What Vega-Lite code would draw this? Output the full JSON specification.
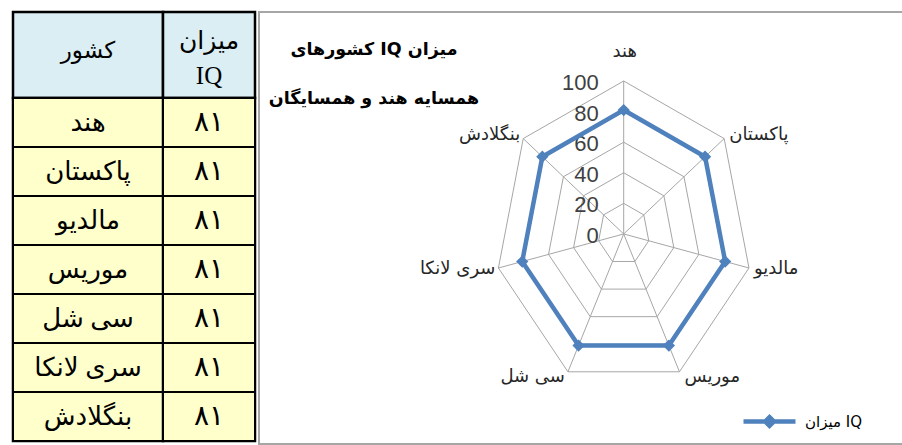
{
  "$schema": "https://vega.github.io/schema/vega-lite/v6.json",
  "padding": {"left": 10, "top": 10, "right": 0, "bottom": 0},
  "background": "white",
  "spacing": 0,
  "config": {
    "locale": {"number": {"decimal": ".", "thousands": ",", "grouping": [3], "currency": ["", ""], "numerals": ["۰","۱","۲","۳","۴","۵","۶","۷","۸","۹"]}},
    "concat": {"spacing": 0},
    "axis": {"disable": true}
  },
  "datasets": {
    "iq": [
      {"country": "هند", "iq": 81},
      {"country": "پاکستان", "iq": 81},
      {"country": "مالدیو", "iq": 81},
      {"country": "موریس", "iq": 81},
      {"country": "سی شل", "iq": 81},
      {"country": "سری لانکا", "iq": 81},
      {"country": "بنگلادش", "iq": 81}
    ],
    "ticks": [{"level": 0}, {"level": 20}, {"level": 40}, {"level": 60}, {"level": 80}, {"level": 100}],
    "header": [{"col": "country", "label": "کشور"}, {"col": "iq", "label": "میزان IQ"}]
  },
  "hconcat": [
    {
      "columns": 2,
      "spacing": 0,
      "bounds": "flush",
      "concat": [
        {
          "width": 150, "height": 86,
          "view": {"fill": "#DAEEF3", "stroke": "black", "strokeWidth": 2.5},
          "data": {"name": "header"},
          "transform": [{"filter": "datum.col === 'country'"}],
          "mark": {"type": "text", "fontSize": 23, "font": "Liberation Serif, DejaVu Sans", "color": "black", "baseline": "middle", "dy": -4},
          "encoding": {"text": {"field": "label"}}
        },
        {
          "width": 92, "height": 86,
          "view": {"fill": "#DAEEF3", "stroke": "black", "strokeWidth": 2.5},
          "data": {"name": "header"},
          "transform": [{"filter": "datum.col === 'iq'"}],
          "mark": {"type": "text", "fontSize": 25, "font": "Liberation Serif, DejaVu Sans", "color": "black", "baseline": "middle", "lineBreak": " ", "lineHeight": 35, "dy": -14},
          "encoding": {"text": {"field": "label"}}
        },
        {
          "width": 150, "height": 343,
          "view": {"stroke": "black", "strokeWidth": 2.5},
          "data": {"name": "iq"},
          "layer": [
            {
              "mark": {"type": "rect", "fill": "#FFFFCC", "stroke": "black", "strokeWidth": 2},
              "encoding": {"y": {"field": "country", "type": "nominal", "sort": null, "axis": null, "scale": {"paddingInner": 0, "paddingOuter": 0}}}
            },
            {
              "mark": {"type": "text", "fontSize": 26, "font": "Liberation Serif, DejaVu Sans", "color": "black", "baseline": "middle"},
              "encoding": {
                "y": {"field": "country", "type": "nominal", "sort": null, "axis": null},
                "text": {"field": "country"}
              }
            }
          ]
        },
        {
          "width": 92, "height": 343,
          "view": {"stroke": "black", "strokeWidth": 2.5},
          "data": {"name": "iq"},
          "layer": [
            {
              "mark": {"type": "rect", "fill": "#FFFFCC", "stroke": "black", "strokeWidth": 2},
              "encoding": {"y": {"field": "country", "type": "nominal", "sort": null, "axis": null, "scale": {"paddingInner": 0, "paddingOuter": 0}}}
            },
            {
              "mark": {"type": "text", "fontSize": 28, "font": "DejaVu Sans", "color": "black", "baseline": "middle"},
              "encoding": {
                "y": {"field": "country", "type": "nominal", "sort": null, "axis": null},
                "text": {"field": "iq", "type": "quantitative"}
              }
            }
          ]
        }
      ]
    },
    {
      "width": 646, "height": 432,
      "view": {"stroke": "#A6A6A6", "strokeWidth": 2},
      "title": {
        "text": ["کشورهای IQ میزان", "همسایه هند و همسایگان"],
        "orient": "top", "anchor": "start", "frame": "group", "align": "center",
        "baseline": "top", "dx": 115, "offset": -95, "lineHeight": 49,
        "fontSize": 17.5, "fontWeight": "bold", "font": "DejaVu Sans", "color": "black"
      },
      "data": {"name": "iq"},
      "transform": [
        {"window": [{"op": "row_number", "as": "idx"}]},
        {"calculate": "(datum.idx - 1) * 2 * PI / 7", "as": "theta"}
      ],
      "layer": [
        {
          "transform": [
            {"fold": ["20", "40", "60", "80", "100"], "as": ["lvl", "v"]},
            {"calculate": "toNumber(datum.lvl)", "as": "level"},
            {"calculate": "datum.level * sin(datum.theta)", "as": "gx"},
            {"calculate": "datum.level * cos(datum.theta)", "as": "gy"}
          ],
          "mark": {"type": "line", "interpolate": "linear-closed", "stroke": "#A6A6A6", "strokeWidth": 1},
          "encoding": {
            "x": {"field": "gx", "type": "quantitative", "axis": null, "scale": {"domain": [-283.8, 218.9], "nice": false, "zero": false}},
            "y": {"field": "gy", "type": "quantitative", "axis": null, "scale": {"domain": [-137.3, 145.1], "nice": false, "zero": false}},
            "detail": {"field": "lvl"},
            "order": {"field": "idx", "type": "quantitative"}
          }
        },
        {
          "transform": [
            {"calculate": "100 * sin(datum.theta)", "as": "sx"},
            {"calculate": "100 * cos(datum.theta)", "as": "sy"}
          ],
          "mark": {"type": "rule", "stroke": "#A6A6A6", "strokeWidth": 1},
          "encoding": {
            "x": {"field": "sx", "type": "quantitative", "axis": null},
            "y": {"field": "sy", "type": "quantitative", "axis": null},
            "x2": {"datum": 0},
            "y2": {"datum": 0}
          }
        },
        {
          "data": {"name": "ticks"},
          "mark": {"type": "text", "align": "right", "baseline": "middle", "dx": -25, "dy": 2, "fontSize": 22, "font": "Liberation Sans", "color": "#404040"},
          "encoding": {
            "x": {"datum": 0, "type": "quantitative"},
            "y": {"field": "level", "type": "quantitative", "axis": null},
            "text": {"field": "level", "type": "nominal"}
          }
        },
        {
          "transform": [
            {"calculate": "datum.iq * sin(datum.theta)", "as": "px"},
            {"calculate": "datum.iq * cos(datum.theta)", "as": "py"}
          ],
          "mark": {"type": "line", "interpolate": "linear-closed", "strokeWidth": 4.5},
          "encoding": {
            "x": {"field": "px", "type": "quantitative", "axis": null},
            "y": {"field": "py", "type": "quantitative", "axis": null},
            "order": {"field": "idx", "type": "quantitative"},
            "color": {
              "datum": "میزان IQ",
              "scale": {"range": ["#4F81BD"]},
              "legend": {
                "title": null, "orient": "none", "legendX": 728, "legendY": 381,
                "symbolType": "M-1,0L1,0M0,-0.17L0.17,0L0,0.17L-0.17,0Z",
                "symbolSize": 2704, "symbolStrokeWidth": 4.5,
                "symbolFillColor": "#4F81BD", "symbolStrokeColor": "#4F81BD",
                "labelFontSize": 15, "labelFont": "DejaVu Sans", "labelColor": "black", "labelOffset": 7
              }
            }
          }
        },
        {
          "transform": [
            {"calculate": "datum.iq * sin(datum.theta)", "as": "px"},
            {"calculate": "datum.iq * cos(datum.theta)", "as": "py"}
          ],
          "mark": {"type": "point", "shape": "diamond", "filled": true, "size": 150, "color": "#4F81BD", "opacity": 1},
          "encoding": {
            "x": {"field": "px", "type": "quantitative", "axis": null},
            "y": {"field": "py", "type": "quantitative", "axis": null}
          }
        },
        {
          "transform": [
            {"filter": "datum.idx === 1"},
            {"calculate": "100 * sin(datum.theta)", "as": "lx"},
            {"calculate": "104 * cos(datum.theta)", "as": "ly"}
          ],
          "mark": {"type": "text", "align": "center", "baseline": "middle", "dy": -23, "dx": 1, "fontSize": 18, "font": "DejaVu Sans", "color": "#262626"},
          "encoding": {
            "x": {"field": "lx", "type": "quantitative", "axis": null},
            "y": {"field": "ly", "type": "quantitative", "axis": null},
            "text": {"field": "country"}
          }
        },
        {
          "transform": [
            {"filter": "datum.idx >= 2 && datum.idx <= 4"},
            {"calculate": "100 * sin(datum.theta)", "as": "lx"},
            {"calculate": "104 * cos(datum.theta)", "as": "ly"}
          ],
          "mark": {"type": "text", "align": "left", "baseline": "middle", "dx": 5, "fontSize": 18, "font": "DejaVu Sans", "color": "#262626"},
          "encoding": {
            "x": {"field": "lx", "type": "quantitative", "axis": null},
            "y": {"field": "ly", "type": "quantitative", "axis": null},
            "text": {"field": "country"}
          }
        },
        {
          "transform": [
            {"filter": "datum.idx >= 5"},
            {"calculate": "100 * sin(datum.theta)", "as": "lx"},
            {"calculate": "104 * cos(datum.theta)", "as": "ly"}
          ],
          "mark": {"type": "text", "align": "right", "baseline": "middle", "dx": -3, "fontSize": 18, "font": "DejaVu Sans", "color": "#262626"},
          "encoding": {
            "x": {"field": "lx", "type": "quantitative", "axis": null},
            "y": {"field": "ly", "type": "quantitative", "axis": null},
            "text": {"field": "country"}
          }
        }
      ]
    }
  ]
}
